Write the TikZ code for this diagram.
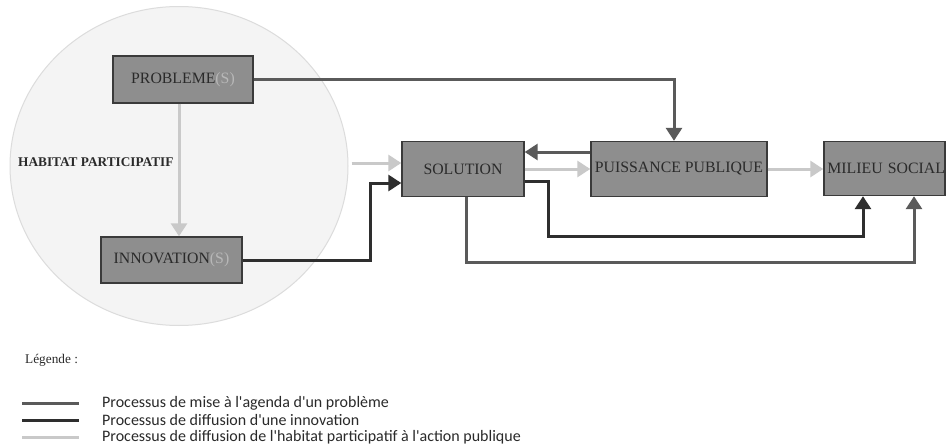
\documentclass[tikz,border=0pt]{standalone}
\usepackage{fontspec}
\setmainfont{Liberation Serif}
\newfontfamily\legfont{Carlito}
\usetikzlibrary{arrows.meta,calc,shapes.geometric}
\definecolor{boxfill}{HTML}{8E8E8E}
\definecolor{boxline}{HTML}{3A3A3A}
\definecolor{circfill}{HTML}{F4F4F4}
\definecolor{circline}{HTML}{DCDCDC}
\definecolor{medline}{HTML}{5A5A5A}
\definecolor{darkline}{HTML}{2E2E2E}
\definecolor{lightline}{HTML}{C9C9C9}
\definecolor{txt}{HTML}{2A2A2A}
\definecolor{sgray}{HTML}{B8B8B8}
\begin{document}
\begin{tikzpicture}[x=1pt,y=-1pt,
  box/.style={draw=boxline,line width=1.4pt,fill=boxfill,inner sep=0pt,text=txt,
    font=\fontsize{15.8}{16}\selectfont},
  medarr/.style={draw=medline,line width=3pt,-{Triangle[width=16pt,length=13pt]}},
  darkarr/.style={draw=darkline,line width=3pt,-{Triangle[width=16pt,length=13pt]}},
  lightarr/.style={draw=lightline,line width=3pt,-{Triangle[width=16pt,length=13pt]}},
  legtxt/.style={anchor=west,inner sep=0pt,text=txt,font=\legfont\fontsize{16}{17}\selectfont}
]
\useasboundingbox (0,0) rectangle (946,447);
\fill[white] (0,0) rectangle (946,447);
\node[ellipse,draw=circline,line width=1pt,fill=circfill,minimum width=338pt,minimum height=319pt,inner sep=0pt] (circ) at (179,166) {};
\node[anchor=west,inner sep=0pt,text=txt,font=\bfseries\fontsize{13.3}{14}\selectfont] (hab) at (18,162) {HABITAT PARTICIPATIF};

\node[box,minimum width=140pt,minimum height=47pt] (prob) at (183,79.5) {PROBLEME\textcolor{sgray}{(S)}};
\node[box,minimum width=141pt,minimum height=46pt] (inno) at (171.5,260) {INNOVATION\textcolor{sgray}{(S)}};
\node[box,minimum width=122pt,minimum height=55pt] (sol) at (463,169) {SOLUTION};
\node[box,minimum width=176pt,minimum height=55pt] (puis) at (679,169) {PUISSANCE PUBLIQUE};
\node[box,minimum width=121pt,minimum height=54pt,text width=121pt,align=right] (mil) at (884.5,168.5) {MILIEU SOCIAL};

% problem -> innovation (light)
\draw[lightarr] ([xshift=-4pt]prob.south) -- ([xshift=-4pt]prob.south |- inno.north);
% problem -> puissance publique (medium)
\draw[medarr] (prob.east) -| ([xshift=-5pt]puis.north);
% circle -> solution (light)
\coordinate (ca) at ([yshift=6pt]sol.west);
\draw[lightarr] ($(circ.east |- ca)+(3,0)$) -- (ca);
% innovation -> solution (dark)
\coordinate (cb) at ([yshift=-14pt]sol.west);
\draw[darkarr] (inno.east) -- ++(128,0) |- (cb);
% puissance -> solution (medium)
\draw[medarr] ([yshift=17pt]puis.west) -- ([yshift=17pt]sol.east);
% solution -> puissance (light)
\draw[lightarr] (sol.east) -- (puis.west);
% puissance -> milieu (light)
\draw[lightarr] (puis.east) -- (puis.east -| mil.west);
% solution -> milieu (dark)
\draw[darkarr] ([yshift=-12pt]sol.east) -- ++(24,0) -- ++(0,55) -| ([xshift=-21.5pt]mil.south);
% solution -> milieu (medium)
\draw[medarr] ([xshift=3pt]sol.south) -- ++(0,65.5) -| ([xshift=29.5pt]mil.south);

% legend
\node[anchor=west,inner sep=0pt,text=txt,font=\fontsize{13.3}{14}\selectfont] (leg) at (25,360) {Légende :};
\coordinate (l1a) at (22,403); \coordinate (l1b) at (79,403);
\coordinate (l2a) at (22,420); \coordinate (l2b) at (79,420);
\coordinate (l3a) at (22,437); \coordinate (l3b) at (79,437);
\draw[medline,line width=3pt] (l1a) -- (l1b);
\draw[darkline,line width=3pt] (l2a) -- (l2b);
\draw[lightline,line width=3pt] (l3a) -- (l3b);
\node[legtxt] (t1) at (102,403) {Processus de mise à l'agenda d'un problème};
\node[legtxt] (t2) at (102,420) {Processus de diffusion d'une innovation};
\node[legtxt] (t3) at (102,437) {Processus de diffusion de l'habitat participatif à l'action publique};
\end{tikzpicture}
\end{document}
